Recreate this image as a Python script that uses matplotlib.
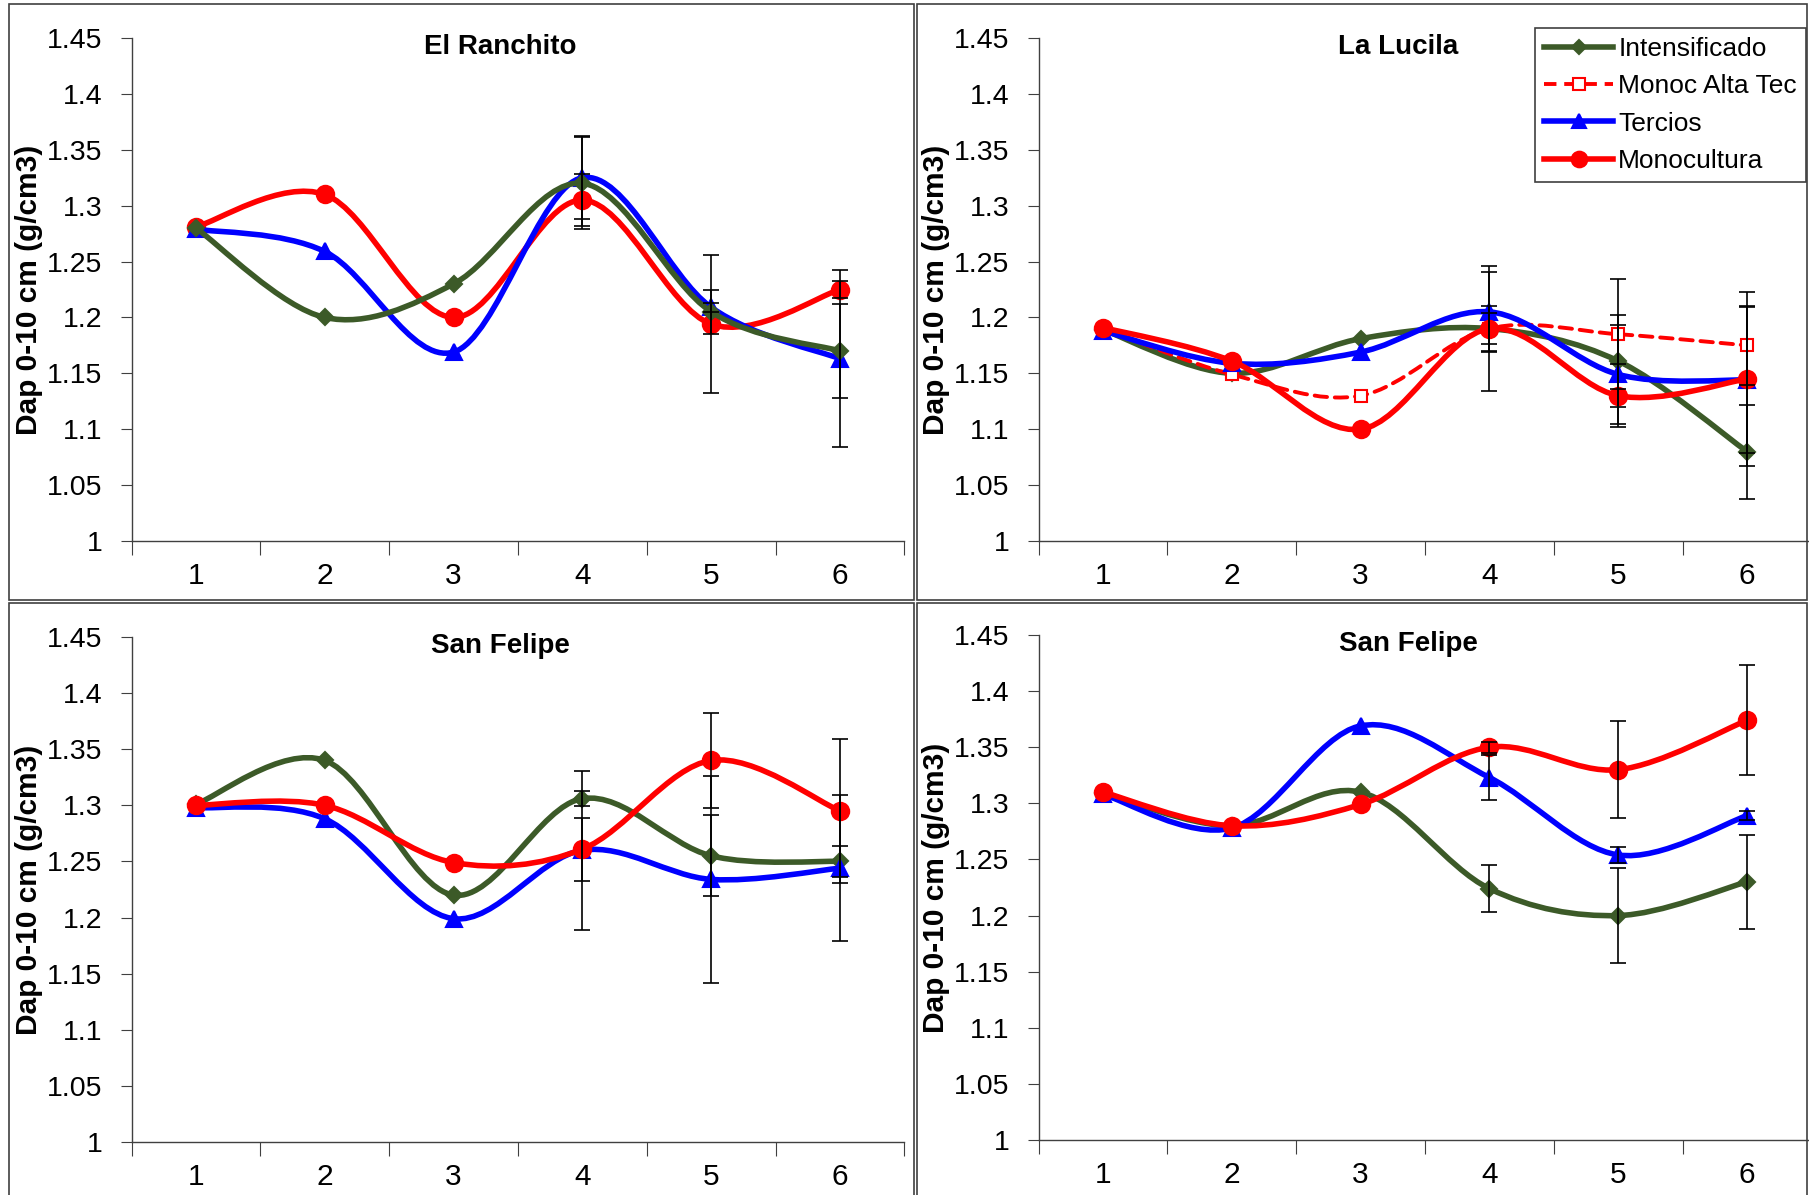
import numpy as np
import matplotlib
matplotlib.use("Agg")
import matplotlib.pyplot as plt
from matplotlib.path import Path
from matplotlib.patches import PathPatch, Rectangle
from matplotlib.lines import Line2D
from matplotlib import font_manager

names = {f.name for f in font_manager.fontManager.ttflist}
narrow = "Liberation Sans Narrow" if "Liberation Sans Narrow" in names else "Liberation Sans"
tick_size = 23 if narrow == "Liberation Sans Narrow" else 20.5

# data
depth = [1, 2, 3, 4, 5, 6]
series_names = ["Intensificado", "Monoc Alta Tec", "Tercios", "Monocultura"]
yticks = [1, 1.05, 1.1, 1.15, 1.2, 1.25, 1.3, 1.35, 1.4, 1.45]
ytick_labels = ["1", "1.05", "1.1", "1.15", "1.2", "1.25", "1.3", "1.35", "1.4", "1.45"]
ylabel = "Dap 0-10 cm (g/cm3)"

# El Ranchito
er_int = [1.28, 1.20, 1.23, 1.32, 1.205, 1.17]
er_ter = [1.279, 1.259, 1.169, 1.325, 1.209, 1.163]
er_mon = [1.281, 1.31, 1.20, 1.305, 1.194, 1.225]
er_int_err = [0, 0, 0, 0.041, 0.02, 0.042]
er_ter_err = [0, 0, 0, 0.037, 0.004, 0.079]
er_mon_err = [0, 0, 0, 0.023, 0.062, 0.008]

# La Lucila
ll_int = [1.189, 1.15, 1.181, 1.19, 1.161, 1.08]
ll_mat = [1.19, 1.149, 1.13, 1.19, 1.185, 1.175]
ll_ter = [1.188, 1.159, 1.169, 1.205, 1.149, 1.144]
ll_mon = [1.191, 1.161, 1.10, 1.19, 1.13, 1.145]
ll_int_err = [0, 0, 0, 0.056, 0.041, 0.042]
ll_mat_err = [0, 0, 0, 0.02, 0.049, 0.035]
ll_ter_err = [0, 0, 0, 0.036, 0.044, 0.065]
ll_mon_err = [0, 0, 0, 0.014, 0.028, 0.078]

# San Felipe (left)
sf1_int = [1.301, 1.34, 1.22, 1.306, 1.255, 1.25]
sf1_ter = [1.298, 1.288, 1.199, 1.26, 1.234, 1.244]
sf1_mon = [1.30, 1.30, 1.249, 1.261, 1.34, 1.295]
sf1_int_err = [0, 0, 0, 0.007, 0.036, 0.014]
sf1_ter_err = [0, 0, 0, 0.071, 0.092, 0.065]
sf1_mon_err = [0, 0, 0, 0.028, 0.042, 0.064]

# San Felipe (right)
sf2_int = [1.309, 1.28, 1.31, 1.224, 1.20, 1.23]
sf2_ter = [1.308, 1.278, 1.369, 1.323, 1.254, 1.289]
sf2_mon = [1.31, 1.28, 1.299, 1.35, 1.33, 1.374]
sf2_int_err = [0, 0, 0, 0.021, 0.042, 0.042]
sf2_ter_err = [0, 0, 0, 0.02, 0.007, 0.004]
sf2_mon_err = [0, 0, 0, 0.005, 0.043, 0.049]

GREEN = "#3C5A28"
BLUE = "#0000FF"
RED = "#FF0000"
styles = {
    "Intensificado": dict(color=GREEN, marker="D", ms=8, mfc=GREEN, ls="-", lw=4),
    "Monoc Alta Tec": dict(color=RED, marker="s", ms=9, mfc="white", ls=(0, (3.2, 2.0)), lw=2.8),
    "Tercios": dict(color=BLUE, marker="^", ms=11.5, mfc=BLUE, ls="-", lw=4),
    "Monocultura": dict(color=RED, marker="o", ms=12.5, mfc=RED, ls="-", lw=4),
}

W, H = 1809, 1195
fig = plt.figure(figsize=(W / 100, H / 100), dpi=100)


def smooth_path(x, y):
    # Bezier segments like Excel's smoothed lines
    pts = np.column_stack([x, y]).astype(float)
    n = len(pts)
    verts = [pts[0]]
    codes = [Path.MOVETO]
    for i in range(n - 1):
        p0 = pts[i - 1] if i > 0 else pts[i]
        p1, p2 = pts[i], pts[i + 1]
        p3 = pts[i + 2] if i + 2 < n else pts[i + 1]
        c1 = p1 + (p2 - p0) / 6
        c2 = p2 - (p3 - p1) / 6
        verts += [c1, c2, p2]
        codes += [Path.CURVE4] * 3
    return Path(verts, codes)


def add_axes_px(left, right, top, bottom):
    return fig.add_axes([left / W, 1 - bottom / H, (right - left) / W, (bottom - top) / H])


def frame_px(left, right, top, bottom):
    fig.patches.append(Rectangle((left / W, 1 - bottom / H), (right - left) / W, (bottom - top) / H,
                                 transform=fig.transFigure, fill=False, ec="#404040", lw=1.2))


def panel(ax, title, tx, ty, data):
    ax.set_xlim(0.5, 6.5)
    ax.set_ylim(1, 1.45)
    for s in ["top", "right"]:
        ax.spines[s].set_visible(False)
    for s in ["left", "bottom"]:
        ax.spines[s].set_color("#404040")
        ax.spines[s].set_linewidth(1)
    ax.set_xticks(np.arange(0.5, 7, 1))
    ax.set_xticklabels([])
    ax.set_xticks(depth, minor=True)
    ax.set_xticklabels([str(d) for d in depth], minor=True, fontsize=tick_size + 1, family=narrow)
    ax.tick_params(axis="x", which="major", length=10, color="#404040")
    ax.tick_params(axis="x", which="minor", length=0, pad=15)
    ax.set_yticks(yticks)
    ax.set_yticklabels(ytick_labels, fontsize=tick_size, family=narrow)
    ax.tick_params(axis="y", length=8, pad=13, color="#404040")
    ax.set_ylabel(ylabel, fontsize=21.5, fontweight="bold", family="Liberation Sans")
    ax.yaxis.set_label_coords(-0.114, 0.5)
    fig.text(tx / W, 1 - ty / H, title, fontsize=20, fontweight="bold", family=narrow,
             ha="center", va="center")
    for k, (name, vals, err) in enumerate(data):
        st = styles[name]
        z = 2 + k * 0.1
        ax.add_patch(PathPatch(smooth_path(depth, vals), fill=False, ec=st["color"], lw=st["lw"],
                               ls=st["ls"], capstyle="round", joinstyle="round", zorder=z))
        ax.plot(depth, vals, ls="none", marker=st["marker"], ms=st["ms"], mfc=st["mfc"],
                mec=st["color"], mew=1.5, zorder=z + 0.05)
        idx = [i for i, e in enumerate(err) if e > 0]
        ax.errorbar([depth[i] for i in idx], [vals[i] for i in idx], yerr=[err[i] for i in idx],
                    fmt="none", ecolor="black", elinewidth=1.2, capsize=6, capthick=1.2, zorder=4)


# chart-area frames
frame_px(9, 914, 4, 600)
frame_px(917, 1807, 4, 600)
frame_px(9, 914, 603, 1200)
frame_px(917, 1807, 603, 1200)

ax1 = add_axes_px(131.5, 904.5, 38, 541)
panel(ax1, "El Ranchito", 500, 47, [
    ("Monocultura", er_mon, er_mon_err),
    ("Tercios", er_ter, er_ter_err),
    ("Intensificado", er_int, er_int_err),
])

ax2 = add_axes_px(1038.5, 1811.5, 38, 541)
panel(ax2, "La Lucila", 1398, 47, [
    ("Intensificado", ll_int, ll_int_err),
    ("Monoc Alta Tec", ll_mat, ll_mat_err),
    ("Tercios", ll_ter, ll_ter_err),
    ("Monocultura", ll_mon, ll_mon_err),
])

ax3 = add_axes_px(131.5, 904.5, 637, 1142)
panel(ax3, "San Felipe", 500, 646, [
    ("Intensificado", sf1_int, sf1_int_err),
    ("Tercios", sf1_ter, sf1_ter_err),
    ("Monocultura", sf1_mon, sf1_mon_err),
])

ax4 = add_axes_px(1038.5, 1811.5, 635, 1140)
panel(ax4, "San Felipe", 1408, 644, [
    ("Intensificado", sf2_int, sf2_int_err),
    ("Tercios", sf2_ter, sf2_ter_err),
    ("Monocultura", sf2_mon, sf2_mon_err),
])

handles = []
for name in series_names:
    st = styles[name]
    handles.append(Line2D([], [], color=st["color"], lw=st["lw"], ls=st["ls"], marker=st["marker"],
                          ms=st["ms"] * 0.9, mfc=st["mfc"], mec=st["color"], mew=1.5))
leg = ax2.legend(handles, series_names, loc="upper right", bbox_to_anchor=(1806 / W, 1 - 28 / H),
                 bbox_transform=fig.transFigure, borderaxespad=0, fancybox=False,
                 edgecolor="#404040", framealpha=1, handlelength=2.6, handletextpad=0.2,
                 labelspacing=0.5, borderpad=0.35, prop={"family": narrow, "size": 19})
leg.get_frame().set_linewidth(1.2)

fig.savefig("out.png", dpi=100)
